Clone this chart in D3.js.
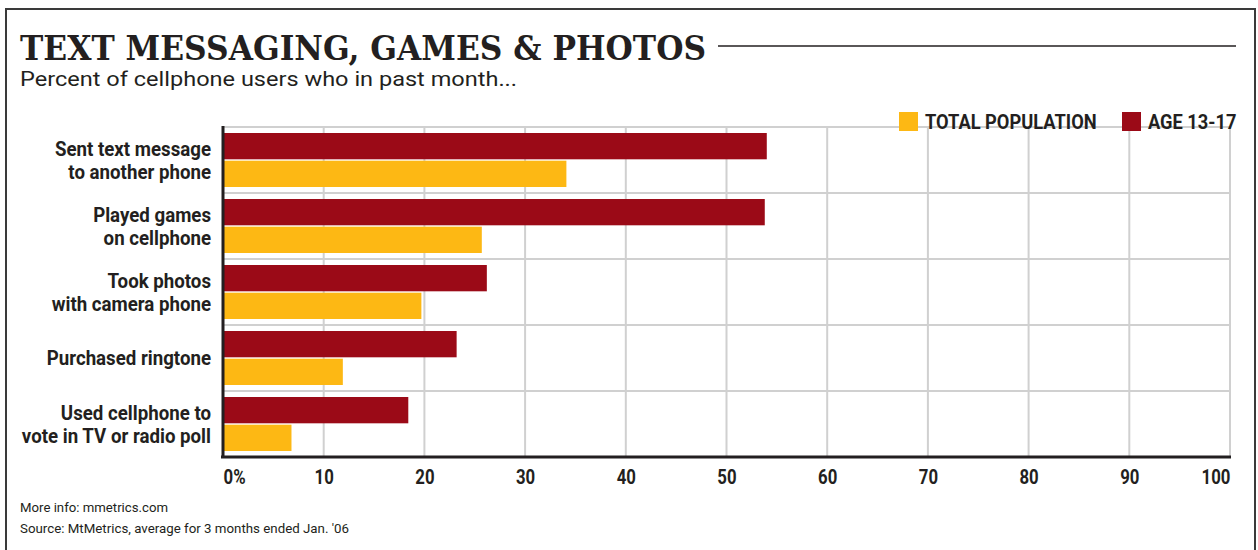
<!DOCTYPE html>
<html>
<head>
<meta charset="utf-8">
<script src="https://cdn.jsdelivr.net/npm/d3@7"></script>
<style>
  body { margin: 0; background: #fff; }
  text { fill: #231f20; }
</style>
</head>
<body>
<script>
const w = 1258
const h = 550

const categories = [
	["Sent text message", "to another phone"],
	["Played games", "on cellphone"],
	["Took photos", "with camera phone"],
	["Purchased ringtone"],
	["Used cellphone to", "vote in TV or radio poll"]
]
const seriesNames = ["AGE 13-17", "TOTAL POPULATION"]
const teen = [54, 53.8, 26.2, 23.2, 18.4]
const total = [34.1, 25.7, 19.7, 11.9, 6.8]
const ticks = [0, 10, 20, 30, 40, 50, 60, 70, 80, 90, 100]
const colors = ["#9b0a17", "#fdb814"]

const plot = {left: 223, right: 1230, top: 127, bottom: 457}
const condense = 0.84

const svg = d3.select("body").append("svg")
	.attr("width", w).attr("height", h)

// frame
svg.append("rect")
	.attr("x", 6).attr("y", 9)
	.attr("width", 1249).attr("height", 600)
	.attr("fill", "none").attr("stroke", "#3a3a3a").attr("stroke-width", 2)

// title
svg.append("text")
	.text("TEXT MESSAGING, GAMES & PHOTOS")
	.attr("x", 20).attr("y", 60)
	.attr("font-family", "DejaVu Serif")
	.attr("font-weight", "bold")
	.attr("font-size", "33px")
	.attr("textLength", 686)
	.attr("lengthAdjust", "spacingAndGlyphs")

svg.append("line")
	.attr("x1", 718).attr("x2", 1236)
	.attr("y1", 46).attr("y2", 46)
	.attr("stroke", "#231f20").attr("stroke-width", 1.5)

svg.append("text")
	.text("Percent of cellphone users who in past month...")
	.attr("x", 20).attr("y", 86)
	.attr("font-family", "Roboto")
	.attr("font-size", "20px")
	.attr("textLength", 497)
	.attr("lengthAdjust", "spacingAndGlyphs")

const x = d3.scaleLinear().domain([0, 100]).range([plot.left, plot.right])
const y = d3.scaleBand().domain(d3.range(categories.length)).range([plot.top, plot.bottom])
const y2 = d3.scaleBand().domain(seriesNames).range([6, y.bandwidth() - 6]).paddingInner(0.05)

// grid
svg.append("g").selectAll("line")
	.data(ticks.slice(1))
	.join("line")
	.attr("x1", d => x(d)).attr("x2", d => x(d))
	.attr("y1", plot.top).attr("y2", plot.bottom)
	.attr("stroke", "#d0d0d0").attr("stroke-width", 2)

svg.append("g").selectAll("line")
	.data(d3.range(categories.length))
	.join("line")
	.attr("x1", plot.left).attr("x2", plot.right)
	.attr("y1", d => y(d)).attr("y2", d => y(d))
	.attr("stroke", "#d0d0d0").attr("stroke-width", 2)

// bars
const groups = svg.append("g").selectAll("g")
	.data(categories.map((c, i) => ({label: c, values: [teen[i], total[i]], i})))
	.join("g")
	.attr("transform", d => `translate(0,${y(d.i)})`)

groups.selectAll("rect")
	.data(d => d.values.map((v, k) => ({v, k})))
	.join("rect")
	.attr("x", x(0))
	.attr("y", d => y2(seriesNames[d.k]))
	.attr("width", d => x(d.v) - x(0))
	.attr("height", y2.bandwidth())
	.attr("fill", d => colors[d.k])

// category labels
groups.append("g")
	.attr("transform", d => `translate(211,${y.bandwidth() / 2}) scale(0.89,1)`)
	.selectAll("text")
	.data(d => d.label.map((t, j) => ({t, j, n: d.label.length})))
	.join("text")
	.text(d => d.t)
	.attr("text-anchor", "end")
	.attr("y", d => (d.j - (d.n - 1) / 2) * 23 + 7)
	.attr("font-family", "Roboto")
	.attr("font-weight", "bold")
	.attr("font-size", "21px")

// axes lines
svg.append("line")
	.attr("x1", plot.left).attr("x2", plot.left)
	.attr("y1", plot.top - 1).attr("y2", plot.bottom)
	.attr("stroke", "#231f20").attr("stroke-width", 3)

const xAxis = svg.append("g")
	.attr("transform", `translate(0,${plot.bottom})`)
	.call(d3.axisBottom(x).tickValues(ticks).tickSize(0).tickPadding(0)
		.tickFormat(d => d === 0 ? "0%" : d))

xAxis.select(".domain")
	.attr("d", `M${plot.left - 2},0H${plot.right + 1}`)
	.attr("stroke", "#231f20").attr("stroke-width", 3)

xAxis.selectAll("text")
	.attr("y", 27).attr("dy", null)
	.attr("transform", `scale(${condense},1)`)
	.attr("font-family", "Roboto")
	.attr("font-weight", "bold")
	.attr("font-size", "20px")
	.attr("fill", "#231f20")
	.attr("text-anchor", (d, i) => i === 0 ? "start" : i === ticks.length - 1 ? "end" : "middle")

// legend
const legend = [
	{name: seriesNames[1], color: colors[1], x: 899},
	{name: seriesNames[0], color: colors[0], x: 1122}
]
const lg = svg.append("g").selectAll("g")
	.data(legend)
	.join("g")
	.attr("transform", d => `translate(${d.x},112)`)
lg.append("rect")
	.attr("width", 19).attr("height", 19)
	.attr("fill", d => d.color)
lg.append("text")
	.text(d => d.name)
	.attr("x", 26).attr("y", 17)
	.attr("font-family", "Roboto")
	.attr("font-weight", "bold")
	.attr("font-size", "21px")
	.attr("transform", "scale(0.87,1)")
	.attr("transform-origin", "26 0")

// footer
svg.append("text")
	.text("More info: mmetrics.com")
	.attr("x", 20).attr("y", 512)
	.attr("font-family", "Roboto")
	.attr("font-size", "13px")
	.attr("textLength", 148)
	.attr("lengthAdjust", "spacingAndGlyphs")

svg.append("text")
	.text("Source: MtMetrics, average for 3 months ended Jan. '06")
	.attr("x", 20).attr("y", 533)
	.attr("font-family", "Roboto")
	.attr("font-size", "13px")
	.attr("textLength", 329)
	.attr("lengthAdjust", "spacingAndGlyphs")
</script>
</body>
</html>
